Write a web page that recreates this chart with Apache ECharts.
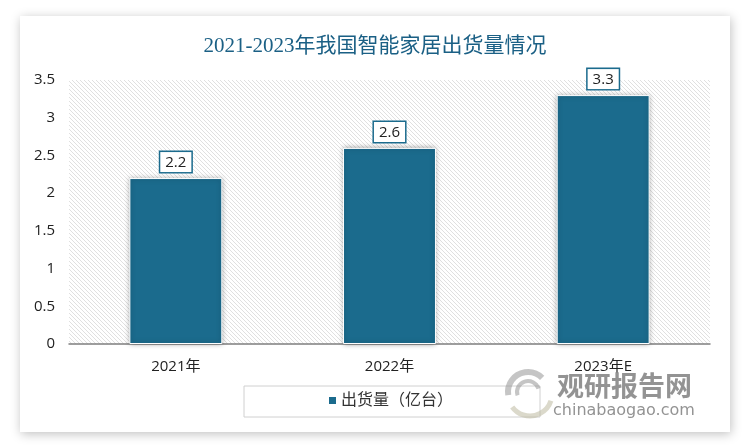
<!DOCTYPE html>
<html>
<head>
<meta charset="utf-8">
<script src="https://cdn.jsdelivr.net/npm/echarts@6/dist/echarts.min.js"></script>
<style>
html,body{margin:0;padding:0;background:#fff;}
#main{width:750px;height:448px;}
</style>
</head>
<body>
<div id="main"></div>
<script>
const titleText = '2021-2023年我国智能家居出货量情况';
const categories = ['2021年', '2022年', '2023年E'];
const seriesName = '出货量（亿台）';
const shipments = [2.2, 2.6, 3.3];
const yTicks = [0, 0.5, 1, 1.5, 2, 2.5, 3, 3.5];

// hatch pattern
const pc = document.createElement('canvas');
pc.width = 4; pc.height = 4;
const pctx = pc.getContext('2d');
pctx.fillStyle = '#ffffff';
pctx.fillRect(0,0,4,4);
pctx.fillStyle = '#e0e0e0';
for (let i = 0; i < 4; i++) { pctx.fillRect(i, i, 1, 1); }

const chart = echarts.init(document.getElementById('main'), null, {renderer:'canvas'});
const serif = '"Liberation Serif","DejaVu Serif","Noto Sans CJK SC",serif';
const sans = '"Open Sans","Noto Sans","Noto Sans CJK SC",sans-serif';
const teal = '#1b6b8d';

chart.setOption({
  backgroundColor: '#ffffff',
  animation: false,
  title: {
    text: titleText,
    left: 'center',
    top: 31,
    textStyle: {fontFamily: serif, fontSize: 21, fontWeight: 'normal', color: '#1b6085'}
  },
  grid: {
    left: 69, right: 40, top: 80, bottom: 104,
    show: true, borderWidth: 0,
    backgroundColor: {image: pc, repeat: 'repeat'}
  },
  legend: {show: false},
  xAxis: {
    type: 'category',
    data: categories,
    axisLine: {lineStyle: {color: '#7f7f7f', width: 1.5}},
    axisTick: {show: false},
    axisLabel: {fontFamily: sans, fontSize: 15, color: '#222', margin: 15}
  },
  yAxis: {
    type: 'value',
    min: yTicks[0], max: yTicks[yTicks.length-1], interval: 0.5,
    axisLine: {show: false},
    axisTick: {show: false},
    splitLine: {show: false},
    axisLabel: {fontFamily: sans, fontSize: 15, color: '#222', margin: 14}
  },
  series: [{
    name: seriesName,
    type: 'bar',
    data: shipments,
    barWidth: '43.5%',
    itemStyle: {
      color: teal,
      borderColor: '#ffffff',
      borderWidth: 1,
      shadowBlur: 5,
      shadowColor: 'rgba(0,0,0,0.35)',
      shadowOffsetX: 0, shadowOffsetY: 0
    },
    label: {
      show: true,
      position: 'top',
      distance: 6,
      fontFamily: sans,
      fontSize: 15,
      color: '#222',
      backgroundColor: '#ffffff',
      borderColor: teal,
      borderWidth: 1.5,
      padding: [3, 5, 2, 5]
    }
  }],
  graphic: [
    {
      type: 'rect', z: -10, silent: true,
      shape: {x: 20, y: 16, width: 710, height: 416},
      style: {fill: '#ffffff', shadowBlur: 10, shadowColor: 'rgba(0,0,0,0.25)', shadowOffsetX: 1, shadowOffsetY: 2}
    },
    {
      type: 'rect', z: 5, silent: true,
      shape: {x: 244, y: 386, width: 296, height: 31},
      style: {fill: 'none', stroke: '#d0d0d0', lineWidth: 1}
    },
    {
      type: 'rect', z: 6, silent: true,
      shape: {x: 329, y: 397, width: 7, height: 7},
      style: {fill: teal}
    },
    {
      type: 'text', z: 6, silent: true,
      style: {text: seriesName, x: 341, y: 401, textVerticalAlign: 'middle', font: '16px ' + serif, fill: '#333'}
    },
    // watermark logo
    {
      type: 'arc', z: 7, silent: true,
      shape: {cx: 528, cy: 392, r: 20, startAngle: Math.PI*0.95, endAngle: Math.PI*1.75},
      style: {stroke: 'rgba(150,150,150,0.55)', lineWidth: 6, fill: 'none'}
    },
    {
      type: 'arc', z: 7, silent: true,
      shape: {cx: 528, cy: 392, r: 11, startAngle: Math.PI*0.9, endAngle: Math.PI*1.9},
      style: {stroke: 'rgba(150,150,150,0.55)', lineWidth: 4, fill: 'none'}
    },
    {
      type: 'arc', z: 7, silent: true,
      shape: {cx: 530, cy: 394, r: 22, startAngle: Math.PI*0.1, endAngle: Math.PI*0.8},
      style: {stroke: 'rgba(190,185,160,0.55)', lineWidth: 5, fill: 'none'}
    },
    {
      type: 'text', z: 7, silent: true,
      style: {text: '观研报告网', x: 557, y: 386, textVerticalAlign: 'middle', font: 'bold 27px "Noto Sans CJK SC",sans-serif', fill: 'rgba(120,120,120,0.8)'}
    },
    {
      type: 'text', z: 7, silent: true,
      style: {text: 'chinabaogao.com', x: 553, y: 411, textVerticalAlign: 'middle', font: '16px "DejaVu Sans",sans-serif', fill: 'rgba(120,120,120,0.8)'}
    }
  ]
});
</script>
</body>
</html>
